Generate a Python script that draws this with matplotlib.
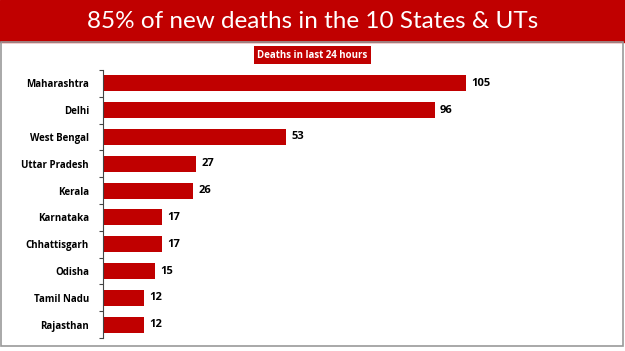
import matplotlib.pyplot as plt
from matplotlib.patches import Rectangle

states = ["Maharashtra", "Delhi", "West Bengal", "Uttar Pradesh", "Kerala",
          "Karnataka", "Chhattisgarh", "Odisha", "Tamil Nadu", "Rajasthan"]
deaths = [105, 96, 53, 27, 26, 17, 17, 15, 12, 12]

title = "85% of new deaths in the 10 States & UTs"
subtitle = "Deaths in last 24 hours"

red = "#C00000"

fig = plt.figure(figsize=(6.25, 3.51), dpi=100)

# header band and frame
fig.patches.append(Rectangle((0, 1 - 42 / 351), 1, 42 / 351, transform=fig.transFigure,
                             color=red, zorder=0))
fig.patches.append(Rectangle((0.002, 0.015), 0.995, 0.985 - 42 / 351, transform=fig.transFigure,
                             fill=False, edgecolor="#999999", lw=1.2, zorder=0))
fig.text(0.5, 1 - 21 / 351, title, ha="center", va="center", color="white",
         fontsize=17.5, family="Lato")
fig.text(0.5, 1 - 55 / 351, subtitle, ha="center", va="center", color="white",
         fontsize=7, family="Open Sans", fontweight="bold",
         bbox=dict(boxstyle="square,pad=0.35", fc=red, ec="none"))

# 363 px of axis width for 105 deaths
ax_w = 0.74
ax = fig.add_axes([103 / 625, 1 - 338 / 351, ax_w, (338 - 70) / 351])
y = range(len(states))
ax.barh(y, deaths, height=0.6, color=red)
ax.set_ylim(len(states) - 0.5, -0.5)
ax.set_xlim(0, 105 * ax_w * 625 / 363)
for i, v in enumerate(deaths):
    ax.text(v + 1.5, i, str(v), va="center", ha="left", fontsize=8,
            fontweight="bold", family="Open Sans")

ax.set_yticks(y)
ax.set_yticklabels(states, fontsize=7, fontweight="bold", family="Open Sans")
ax.set_yticks([i + 0.5 for i in range(-1, len(states))], minor=True)
ax.tick_params(axis="y", which="major", length=0, pad=10)
ax.tick_params(axis="y", which="minor", length=3, width=0.8, color="#444444")
ax.set_xticks([])
for s in ["top", "right", "bottom"]:
    ax.spines[s].set_visible(False)
ax.spines["left"].set_color("#444444")
ax.spines["left"].set_linewidth(0.8)

fig.savefig("out.png", dpi=100)
